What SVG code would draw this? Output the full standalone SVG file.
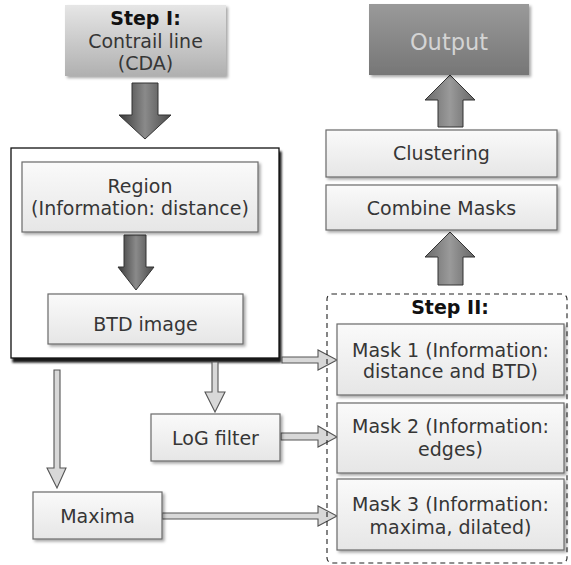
<svg xmlns="http://www.w3.org/2000/svg" width="571" height="565" viewBox="0 0 571 565">
<defs>
<linearGradient id="gBox" x1="0" y1="0" x2="0" y2="1"><stop offset="0" stop-color="#fafafa"/><stop offset="1" stop-color="#e6e6e6"/></linearGradient>
<linearGradient id="gStep1" x1="0" y1="0" x2="0" y2="1"><stop offset="0" stop-color="#e6e6e6"/><stop offset="1" stop-color="#b0b0b0"/></linearGradient>
<linearGradient id="gOut" x1="0" y1="0" x2="0" y2="1"><stop offset="0" stop-color="#9a9a9a"/><stop offset="1" stop-color="#767676"/></linearGradient>
<linearGradient id="gArr" x1="0" y1="0" x2="1" y2="0"><stop offset="0" stop-color="#3a3a3a"/><stop offset="0.5" stop-color="#8a8a8a"/><stop offset="1" stop-color="#4a4a4a"/></linearGradient>
<linearGradient id="gArrU" x1="0" y1="0" x2="1" y2="0"><stop offset="0" stop-color="#6a6a6a"/><stop offset="0.5" stop-color="#9a9a9a"/><stop offset="1" stop-color="#666"/></linearGradient>
<filter id="sh" x="-10%" y="-10%" width="130%" height="140%"><feDropShadow dx="2" dy="2" stdDeviation="1.5" flood-color="#000" flood-opacity="0.35"/></filter>
<filter id="shBig" x="-10%" y="-10%" width="130%" height="130%"><feDropShadow dx="2" dy="4" stdDeviation="1.2" flood-color="#000" flood-opacity="0.9"/></filter>
</defs>
<style>
.box{fill:url(#gBox);stroke:#6a6a6a;stroke-width:1.2;filter:url(#sh)}
.t{font-family:"DejaVu Sans",Verdana,sans-serif;font-size:19px;fill:#363636;text-anchor:middle}
.b{font-weight:bold;fill:#111}
.hol{fill:#d8d8d8;stroke:#555;stroke-width:1.1}
.big{fill:url(#gArr);stroke:#333;stroke-width:1}
.bigU{fill:url(#gArrU);stroke:#333;stroke-width:1}
</style>
<rect width="571" height="565" fill="#fff"/>
<g id="step1">
<rect x="65" y="5" width="161" height="71" fill="url(#gStep1)" filter="url(#sh)"/>
<text class="t b" x="145.5" y="25">Step I:</text>
<text class="t" x="145.5" y="48">Contrail line</text>
<text class="t" x="145.5" y="70">(CDA)</text>
</g>
<g id="outer">
<rect x="11" y="148" width="268" height="210" fill="#fff" stroke="#111" stroke-width="1.3" filter="url(#shBig)"/>
</g>
<g id="connectors">
<path class="big" d="M132,83 H158 V115 H171 L145,139 L119,115 H132 Z"/>
<path class="big" d="M124,235 H146 V267 H154 L136,290 L118,267 H124 Z"/>
<path class="bigU" d="M438,127 H463 V100 H475 L450,75 L425,100 H438 Z"/>
<path class="bigU" d="M438,285 H463 V257 H475 L450,232 L425,257 H438 Z"/>
<path class="hol" d="M212,362 H218 V392 H225 L215,412 L205,392 H212 Z"/>
<path class="hol" d="M54,370 H60 V468 H66 L57,488 L47,468 H54 Z"/>
<path class="hol" d="M282,357 H318 V350 L337,360 L318,370 V363 H282 Z"/>
<path class="hol" d="M281,433 H318 V426 L337,437 L318,447 V440 H281 Z"/>
<path class="hol" d="M162,513 H318 V506 L337,516 L318,526 V519 H162 Z"/>
</g>
<g id="region">
<rect class="box" x="22" y="162" width="236" height="70"/>
<text class="t" x="140" y="193">Region</text>
<text class="t" x="140" y="215">(Information: distance)</text>
</g>
<g id="btd">
<rect class="box" x="48" y="294" width="195" height="50"/>
<text class="t" x="145.5" y="331">BTD image</text>
</g>
<g id="output">
<rect x="369" y="4" width="160" height="71" fill="url(#gOut)" filter="url(#sh)"/>
<text class="t" x="449" y="50" style="fill:#d4d4d4;font-size:22.5px">Output</text>
</g>
<g id="clustering">
<rect class="box" x="326" y="130" width="231" height="47"/>
<text class="t" x="441.5" y="160">Clustering</text>
</g>
<g id="combine">
<rect class="box" x="326" y="185" width="231" height="45"/>
<text class="t" x="441.5" y="215">Combine Masks</text>
</g>
<g id="step2">
<rect x="327" y="294" width="240" height="269" rx="5" fill="none" stroke="#222" stroke-width="1.1" stroke-dasharray="5,4"/>
<text class="t b" x="450" y="314">Step II:</text>
</g>
<g id="mask1">
<rect class="box" x="337" y="324" width="227" height="71"/>
<text class="t" x="450.5" y="357">Mask 1 (Information:</text>
<text class="t" x="450.5" y="378">distance and BTD)</text>
</g>
<g id="mask2">
<rect class="box" x="337" y="403" width="227" height="70"/>
<text class="t" x="450.5" y="433">Mask 2 (Information:</text>
<text class="t" x="450.5" y="456">edges)</text>
</g>
<g id="mask3">
<rect class="box" x="337" y="479" width="227" height="71"/>
<text class="t" x="450.5" y="511">Mask 3 (Information:</text>
<text class="t" x="450.5" y="534">maxima, dilated)</text>
</g>
<g id="log">
<rect class="box" x="151" y="414" width="129" height="47"/>
<text class="t" x="215.5" y="445">LoG filter</text>
</g>
<g id="maxima">
<rect class="box" x="33" y="492" width="129" height="47"/>
<text class="t" x="97.5" y="523">Maxima</text>
</g>
</svg>
